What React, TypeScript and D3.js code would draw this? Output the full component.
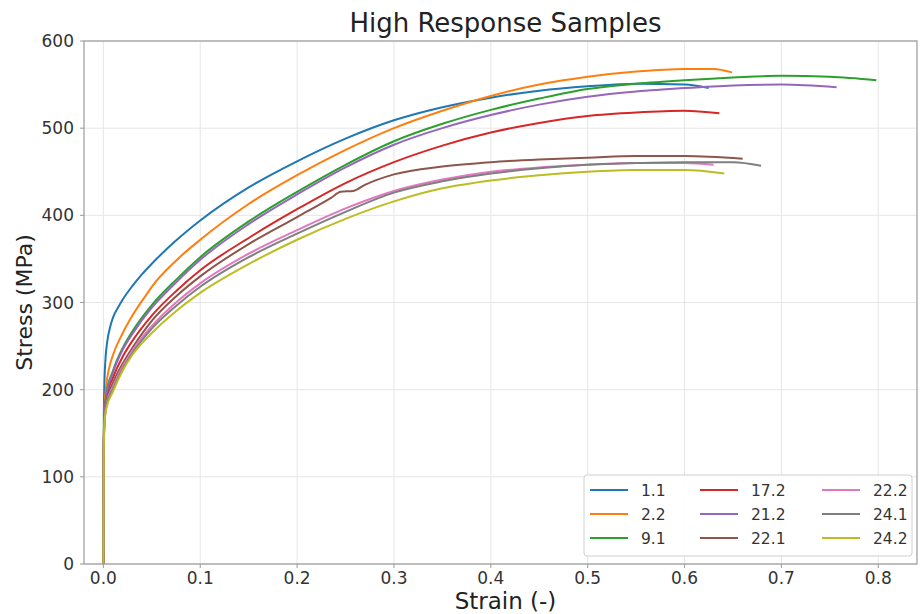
import React from "react";
import * as d3 from "d3";

type Pt = [number, number];

// strain (-), stress (MPa)
const s1_1: Pt[] = [[0,0],[0.0005,170],[0.001,205],[0.002,232],[0.004,255],[0.007,272],[0.01,283],[0.015,294],[0.02,303.5],[0.03,319],[0.04,332.5],[0.05,344.5],[0.075,371],[0.1,394],[0.15,432],[0.2,462],[0.25,488],[0.3,509],[0.35,524],[0.4,535],[0.45,543],[0.5,548],[0.55,551],[0.6,550],[0.625,546]];
const s2_2: Pt[] = [[0,0],[0.0004,140],[0.001,175],[0.003,205],[0.006,225],[0.01,240],[0.02,265],[0.03,285],[0.045,310],[0.05,318],[0.075,348],[0.1,372],[0.15,413],[0.2,446],[0.25,475],[0.3,500],[0.35,520],[0.4,537],[0.45,550],[0.5,559],[0.55,565],[0.6,568],[0.63,568],[0.649,564]];
const s9_1: Pt[] = [[0,0],[0.0004,135],[0.001,170],[0.003,195],[0.01,222],[0.02,248],[0.03,267],[0.05,297],[0.075,326],[0.1,352],[0.15,393],[0.2,427],[0.25,458],[0.3,485],[0.35,505],[0.4,521],[0.45,534],[0.5,545],[0.55,551],[0.6,555],[0.65,558],[0.7,560],[0.75,559],[0.798,555]];
const s17_2: Pt[] = [[0,0],[0.0004,130],[0.001,165],[0.003,190],[0.01,214],[0.02,238],[0.03,256],[0.05,285],[0.075,313],[0.1,337],[0.15,374],[0.2,407],[0.25,437],[0.3,461],[0.35,480],[0.4,495],[0.45,506],[0.5,514],[0.55,518],[0.6,520],[0.636,517]];
const s21_2: Pt[] = [[0,0],[0.0004,135],[0.001,168],[0.003,192],[0.01,220],[0.02,246],[0.03,264],[0.05,294],[0.075,323],[0.1,349],[0.15,390],[0.2,424],[0.25,455],[0.3,481],[0.35,500],[0.4,515],[0.45,527],[0.5,536],[0.55,542],[0.6,546],[0.65,549],[0.7,550],[0.757,547]];
const s22_1: Pt[] = [[0,0],[0.0004,130],[0.001,162],[0.003,186],[0.01,208],[0.02,230],[0.03,248],[0.05,279],[0.075,307],[0.1,330],[0.15,367],[0.2,398],[0.235,420],[0.245,427],[0.258,428],[0.27,435],[0.3,447],[0.35,456],[0.4,461],[0.45,464],[0.5,466],[0.55,468],[0.6,468],[0.66,465]];
const s22_2: Pt[] = [[0,0],[0.0004,128],[0.001,160],[0.003,183],[0.01,204],[0.02,227],[0.03,245],[0.05,273],[0.075,300],[0.1,322],[0.15,356],[0.2,383],[0.25,408],[0.3,428],[0.35,441],[0.4,450],[0.45,455],[0.5,458],[0.55,460],[0.6,460],[0.63,458]];
const s24_1: Pt[] = [[0,0],[0.0004,126],[0.001,158],[0.003,181],[0.01,201],[0.02,224],[0.03,242],[0.05,270],[0.075,296],[0.1,318],[0.15,352],[0.2,379],[0.25,404],[0.3,426],[0.35,439],[0.4,448],[0.45,454],[0.5,458],[0.55,460],[0.6,461],[0.65,461],[0.679,457]];
const s24_2: Pt[] = [[0,0],[0.0004,125],[0.001,158],[0.003,178],[0.01,198],[0.02,222],[0.03,240],[0.05,265],[0.075,290],[0.1,311],[0.15,344],[0.2,372],[0.25,396],[0.3,416],[0.35,431],[0.4,440],[0.45,446],[0.5,450],[0.55,452],[0.6,452],[0.641,448]];

const seriesLabels = ["1.1", "2.2", "9.1", "17.2", "21.2", "22.1", "22.2", "24.1", "24.2"];
const seriesData: Pt[][] = [s1_1, s2_2, s9_1, s17_2, s21_2, s22_1, s22_2, s24_1, s24_2];
const seriesColors = ["#1f77b4", "#ff7f0e", "#2ca02c", "#d62728", "#9467bd", "#8c564b", "#e377c2", "#7f7f7f", "#bcbd22"];
const xTicks = [0, 0.1, 0.2, 0.3, 0.4, 0.5, 0.6, 0.7, 0.8];
const yTicks = [0, 100, 200, 300, 400, 500, 600];

const W = 920, H = 614;
const L = 84, R = 917, T = 41, B = 564;
const FONT = "DejaVu Sans, sans-serif";

export default function App() {
  const x = d3.scaleLinear().domain([-0.02, 0.84]).range([L, R]);
  const y = d3.scaleLinear().domain([0, 600]).range([B, T]);
  const line = d3.line<Pt>().x(d => x(d[0])).y(d => y(d[1])).curve(d3.curveMonotoneX);

  // legend layout
  const legX = 584, legY = 475, legW = 328, legH = 81;
  const colX = [590, 700, 822];
  const rowY = [490, 514, 538];

  return (
    <svg width={W} height={H} style={{ position: "absolute", left: 0, top: 0, background: "#fff" }} fontFamily={FONT}>
      <rect x={0} y={0} width={W} height={H} fill="#fff" />
      <defs>
        <clipPath id="clip"><rect x={L} y={T} width={R - L} height={B - T} /></clipPath>
      </defs>
      {/* grid */}
      {xTicks.map(t => (
        <line key={"gx" + t} x1={x(t)} x2={x(t)} y1={T} y2={B} stroke="#e6e6e6" strokeWidth={1} />
      ))}
      {yTicks.map(t => (
        <line key={"gy" + t} x1={L} x2={R} y1={y(t)} y2={y(t)} stroke="#e6e6e6" strokeWidth={1} />
      ))}
      {/* curves */}
      <g clipPath="url(#clip)">
        {seriesData.map((d, i) => (
          <path key={seriesLabels[i]} d={line(d) || ""} fill="none" stroke={seriesColors[i]} strokeWidth={2} strokeLinejoin="round" />
        ))}
      </g>
      {/* frame */}
      <rect x={L} y={T} width={R - L} height={B - T} fill="none" stroke="#9a9a9a" strokeWidth={1.2} />
      {/* ticks */}
      {xTicks.map(t => (
        <g key={"tx" + t}>
          <line x1={x(t)} x2={x(t)} y1={B} y2={B + 4} stroke="#9a9a9a" />
          <text x={x(t)} y={B + 20} textAnchor="middle" fontSize={17} fill="#333">{d3.format(".1f")(t)}</text>
        </g>
      ))}
      {yTicks.map(t => (
        <g key={"ty" + t}>
          <line x1={L - 4} x2={L} y1={y(t)} y2={y(t)} stroke="#9a9a9a" />
          <text x={L - 10} y={y(t) + 6} textAnchor="end" fontSize={17} fill="#333">{t}</text>
        </g>
      ))}
      {/* titles */}
      <text x={(L + R) / 2 + 5} y={32} textAnchor="middle" fontSize={26} fill="#222">High Response Samples</text>
      <text x={(L + R) / 2 + 5} y={609} textAnchor="middle" fontSize={23} fill="#222">Strain (-)</text>
      <text transform={`translate(32,${(T + B) / 2}) rotate(-90)`} textAnchor="middle" fontSize={22} fill="#222">Stress (MPa)</text>
      {/* legend */}
      <rect x={legX} y={legY} width={legW} height={legH} rx={3} fill="#fff" fillOpacity={0.85} stroke="#d0d0d0" />
      {seriesLabels.map((lab, i) => {
        const c = Math.floor(i / 3), r = i % 3;
        return (
          <g key={"lg" + lab}>
            <line x1={colX[c]} x2={colX[c] + 38} y1={rowY[r]} y2={rowY[r]} stroke={seriesColors[i]} strokeWidth={2} />
            <text x={colX[c] + 51} y={rowY[r] + 5.5} fontSize={15.5} fill="#333">{lab}</text>
          </g>
        );
      })}
    </svg>
  );
}
